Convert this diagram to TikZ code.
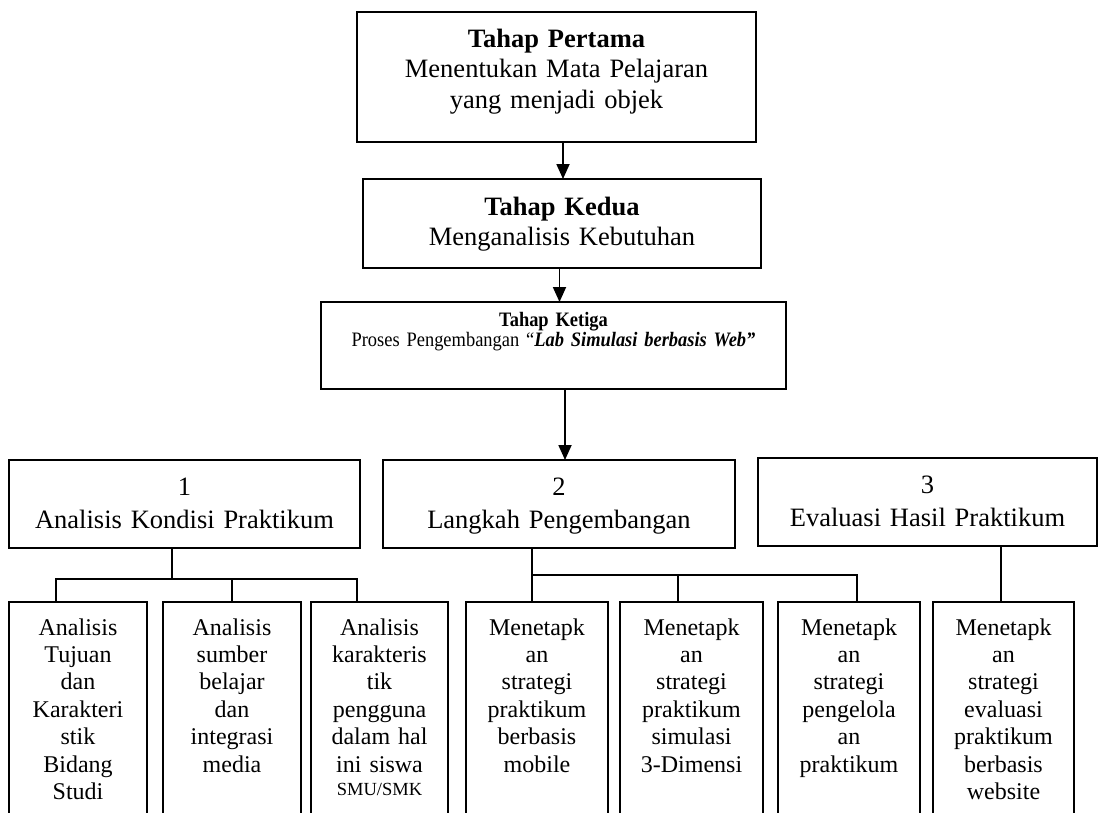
\documentclass[tikz,border=0pt]{standalone}
\usepackage{fontspec}
\setmainfont{Liberation Serif}
\newfontfamily\sempit[FakeStretch=0.9]{Liberation Serif}
\usetikzlibrary{positioning, arrows.meta}

\begin{document}
\begin{tikzpicture}[
  box/.style={rectangle, draw, line width=1.5pt, inner sep=0pt, outer sep=0pt,
              align=center},
  tahap/.style={box, font=\fontsize{26.5pt}{30.5pt}\selectfont},
  bagian/.style={box, text height=35pt, text depth=53pt,
                 font=\fontsize{26.5pt}{33pt}\selectfont},
  rincian/.style={box, text height=33pt, text depth=205pt,
                  font=\fontsize{24pt}{27.4pt}\selectfont},
  arr/.style={-{Triangle[length=15pt, width=13pt]}, line width=1.8pt},
  link/.style={line width=1.8pt},
]
\useasboundingbox (0,0) rectangle (1098pt,-812pt);
\clip (0,0) rectangle (1098pt,-812pt);

% tahapan
\node[tahap, text width=399pt, text height=35pt, text depth=95pt, anchor=north]
  (pertama) at (556.5pt,-12pt)
  {\textbf{Tahap Pertama}\\ Menentukan Mata Pelajaran\\ yang menjadi objek};
\node[tahap, text width=398pt, text height=36pt, text depth=53pt,
      below=37pt of pertama, xshift=5.5pt] (kedua)
  {\textbf{Tahap Kedua}\\ Menganalisis Kebutuhan};
\node[box, text width=465pt, text height=24pt, text depth=63pt,
      font=\sempit\fontsize{20.5pt}{20pt}\selectfont,
      below=34pt of kedua, xshift=-8.5pt] (ketiga)
  {\textbf{Tahap Ketiga}\\ Proses Pengembangan “\textbf{\textit{Lab Simulasi berbasis Web”}}};

% bagian proses
\node[bagian, text width=352pt, below=71pt of ketiga, xshift=5.5pt] (langkah)
  {2\\ Langkah Pengembangan};
\node[bagian, text width=351pt, left=23pt of langkah] (kondisi)
  {1\\ Analisis Kondisi Praktikum};
\node[bagian, text width=339pt, right=23pt of langkah, yshift=2pt] (evaluasi)
  {3\\ Evaluasi Hasil Praktikum};

% rincian
\node[rincian, text width=138pt, below right=54pt and 0pt of kondisi.south west] (tujuan)
  {Analisis\\ Tujuan\\ dan\\ Karakteri\\ stik\\ Bidang\\ Studi};
\node[rincian, text width=138pt, right=16pt of tujuan] (sumber)
  {Analisis\\ sumber\\ belajar\\ dan\\ integrasi\\ media};
\node[rincian, text width=137pt, right=10pt of sumber] (pengguna)
  {Analisis\\ karakteris\\ tik\\ pengguna\\ dalam hal\\ ini siswa\\[-4.4pt]
   {\fontsize{18.5pt}{22pt}\selectfont SMU/SMK}};
\node[rincian, text width=142pt, right=18pt of pengguna] (mobile)
  {Menetapk\\ an\\ strategi\\ praktikum\\ berbasis\\ mobile};
\node[rincian, text width=143pt, right=12pt of mobile] (simulasi)
  {Menetapk\\ an\\ strategi\\ praktikum\\ simulasi\\ 3-Dimensi};
\node[rincian, text width=142pt, right=15pt of simulasi] (kelola)
  {Menetapk\\ an\\ strategi\\ pengelola\\ an\\ praktikum};
\node[rincian, text width=141pt, right=13pt of kelola] (website)
  {Menetapk\\ an\\ strategi\\ evaluasi\\ praktikum\\ berbasis\\ website};

% panah antar tahap
\draw[arr] ([xshift=6.5pt]pertama.south) -- ([xshift=1pt]kedua.north);
\draw[arr] ([xshift=-2.5pt]kedua.south) -- ([xshift=6pt]ketiga.north);
\draw[arr] ([xshift=11.5pt]ketiga.south) -- ([xshift=6pt]langkah.north);

% cabang
\coordinate (kbar) at ([xshift=-12.5pt, yshift=-31pt]kondisi.south);
\draw[link] ([xshift=-12.5pt]kondisi.south) -- (kbar);
\draw[link] ([xshift=-22pt]tujuan.north) |- (kbar) -| ([xshift=-22.5pt]pengguna.north);
\draw[link] (sumber.north) -- (sumber.north |- kbar);

\coordinate (lbar) at ([xshift=-27pt, yshift=-27pt]langkah.south);
\draw[link] ([xshift=-27pt]langkah.south) -- ([xshift=-5pt]mobile.north);
\draw[link] (lbar) -| ([xshift=8pt]kelola.north);
\draw[link] ([xshift=-13.5pt]simulasi.north) -- ([xshift=-13.5pt]simulasi.north |- lbar);

\draw[link] ([xshift=73.5pt]evaluasi.south) -- ([xshift=-2.5pt]website.north);
\end{tikzpicture}
\end{document}
